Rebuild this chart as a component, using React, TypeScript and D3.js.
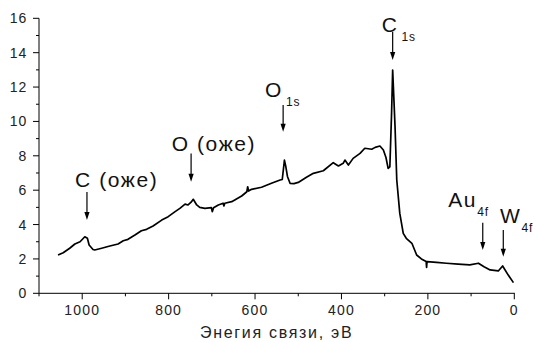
import React from "react";
import * as d3 from "d3";

const energy = [1056, 1044, 1029, 1017, 1005, 994, 988, 984, 975, 971, 955, 936, 917, 905, 894, 878, 863, 851, 836, 816, 801, 785, 774, 762, 755, 748, 743, 735, 728, 716, 701, 699, 696, 685, 674, 672, 670, 654, 631, 619, 617, 615, 608, 585, 562, 542, 537, 532, 529, 525, 519, 510, 500, 481, 465, 442, 419, 407, 396, 392, 384, 373, 357, 346, 330, 322, 311, 303, 297, 292, 288, 284, 281.5, 279, 276, 272, 265, 257, 250, 237, 226, 215, 204, 203, 202, 180, 157, 130, 103, 83, 70, 56, 37, 27, 14, 2];
const intensity = [2.23, 2.36, 2.62, 2.87, 3.0, 3.29, 3.2, 2.81, 2.55, 2.52, 2.62, 2.75, 2.87, 3.06, 3.14, 3.39, 3.64, 3.72, 3.92, 4.26, 4.46, 4.75, 4.94, 5.19, 5.14, 5.3, 5.47, 5.14, 5.0, 4.94, 4.98, 4.75, 4.98, 5.14, 5.24, 5.08, 5.24, 5.33, 5.66, 5.91, 6.2, 5.95, 6.05, 6.17, 6.4, 6.59, 6.62, 7.75, 7.4, 6.8, 6.4, 6.38, 6.45, 6.75, 6.98, 7.13, 7.6, 7.41, 7.56, 7.75, 7.46, 7.85, 8.14, 8.44, 8.38, 8.49, 8.57, 8.34, 7.9, 7.27, 7.36, 10.5, 12.99, 11.5, 9.69, 6.59, 4.65, 3.49, 3.2, 2.91, 2.23, 2.0, 1.85, 1.5, 1.84, 1.8, 1.75, 1.7, 1.65, 1.75, 1.55, 1.36, 1.3, 1.59, 1.06, 0.62];

const xTicks = [1000, 800, 600, 400, 200, 0];
const xMinor = [1100, 900, 700, 500, 300, 100];
const yTicks = [0, 2, 4, 6, 8, 10, 12, 14, 16];
const yMinor = [1, 3, 5, 7, 9, 11, 13, 15];
const xTitle = "Энегия связи, эВ";

// annotations: label, subscript, text anchor (eV, intensity), arrow x (eV), arrow from/to (intensity)
const annLabels = ["C (оже)", "O (оже)", "O", "C", "Au", "W"];
const annSubs = ["", "", "1s", "1s", "4f", "4f"];
const annTextX = [1016.7, 793, 577, 307, 152.8, 33.1];
const annTextY = [6.2, 8.28, 11.42, 15.23, 5.04, 4.11];
const annArrowX = [989, 748, 535, 281.5, 73, 25.5];
const annArrowFrom = [5.89, 8.14, 10.95, 15.22, 4.11, 3.68];
const annArrowTo = [4.26, 6.49, 9.4, 13.57, 2.52, 2.13];
const annSubDx = [0, 0, 3, 3, 0, 0];

export default function App() {
  const W = 538, H = 342;
  const x = d3.scaleLinear().domain([1100, 0]).range([39, 514.3]);
  const y = d3.scaleLinear().domain([0, 16]).range([293.3, 18.3]);
  const pts = energy.map((e, i) => [e, intensity[i]] as [number, number]);
  const line = d3.line<[number, number]>().x(d => x(d[0])).y(d => y(d[1]));
  const font = "Arial, 'Liberation Sans', Helvetica, sans-serif";
  const x0 = x(1100), y0 = y(0);
  return (
    <svg width={W} height={H} style={{ position: "absolute", left: 0, top: 0, background: "#fff" }} fontFamily={font}>
      <rect width={W} height={H} fill="#fff" />
      {/* axes */}
      <line x1={x0} x2={x(0) + 0.5} y1={y0} y2={y0} stroke="#000" strokeWidth={1} />
      <line x1={x0} x2={x0} y1={y0} y2={y(16)} stroke="#000" strokeWidth={1} />
      {xTicks.map(t => (
        <g key={"xt" + t}>
          <line x1={x(t)} x2={x(t)} y1={y0} y2={y0 + 6} stroke="#000" />
          <text x={x(t)} y={y0 + 22} textAnchor="middle" fontSize={14} letterSpacing={1.2} fill="#222">{t}</text>
        </g>
      ))}
      {xMinor.map(t => (
        <line key={"xm" + t} x1={x(t)} x2={x(t)} y1={y0} y2={y0 + 3} stroke="#000" />
      ))}
      {yTicks.map(t => (
        <g key={"yt" + t}>
          <line x1={x0 - 6} x2={x0} y1={y(t)} y2={y(t)} stroke="#000" />
          <text x={27} y={y(t) + 5} textAnchor="end" fontSize={14} letterSpacing={0.8} fill="#222">{t}</text>
        </g>
      ))}
      {yMinor.map(t => (
        <line key={"ym" + t} x1={x0 - 3} x2={x0} y1={y(t)} y2={y(t)} stroke="#000" />
      ))}
      <text x={(x(1100) + x(0)) / 2 + 0} y={338} textAnchor="middle" fontSize={16} letterSpacing={1.7} fill="#222">{xTitle}</text>
      {/* spectrum */}
      <path d={line(pts) || ""} fill="none" stroke="#000" strokeWidth={1.7} strokeLinejoin="round" />
      {/* annotations */}
      {annLabels.map((lab, i) => {
        const ax = x(annArrowX[i]);
        const a1 = y(annArrowFrom[i]);
        const a2 = y(annArrowTo[i]);
        return (
          <g key={"an" + i}>
            <line x1={ax} x2={ax} y1={a1} y2={a2 - 6} stroke="#000" strokeWidth={1.2} />
            <path d={`M${ax - 2.6},${a2 - 8}L${ax + 2.6},${a2 - 8}L${ax},${a2}Z`} fill="#000" />
            <text x={x(annTextX[i])} y={y(annTextY[i])} fontSize={21} letterSpacing={1.6} fill="#111">
              {lab}
              {annSubs[i] && (
                <tspan dx={annSubDx[i]} dy={9} fontSize={12} letterSpacing={0.8}>{annSubs[i]}</tspan>
              )}
            </text>
          </g>
        );
      })}
    </svg>
  );
}
